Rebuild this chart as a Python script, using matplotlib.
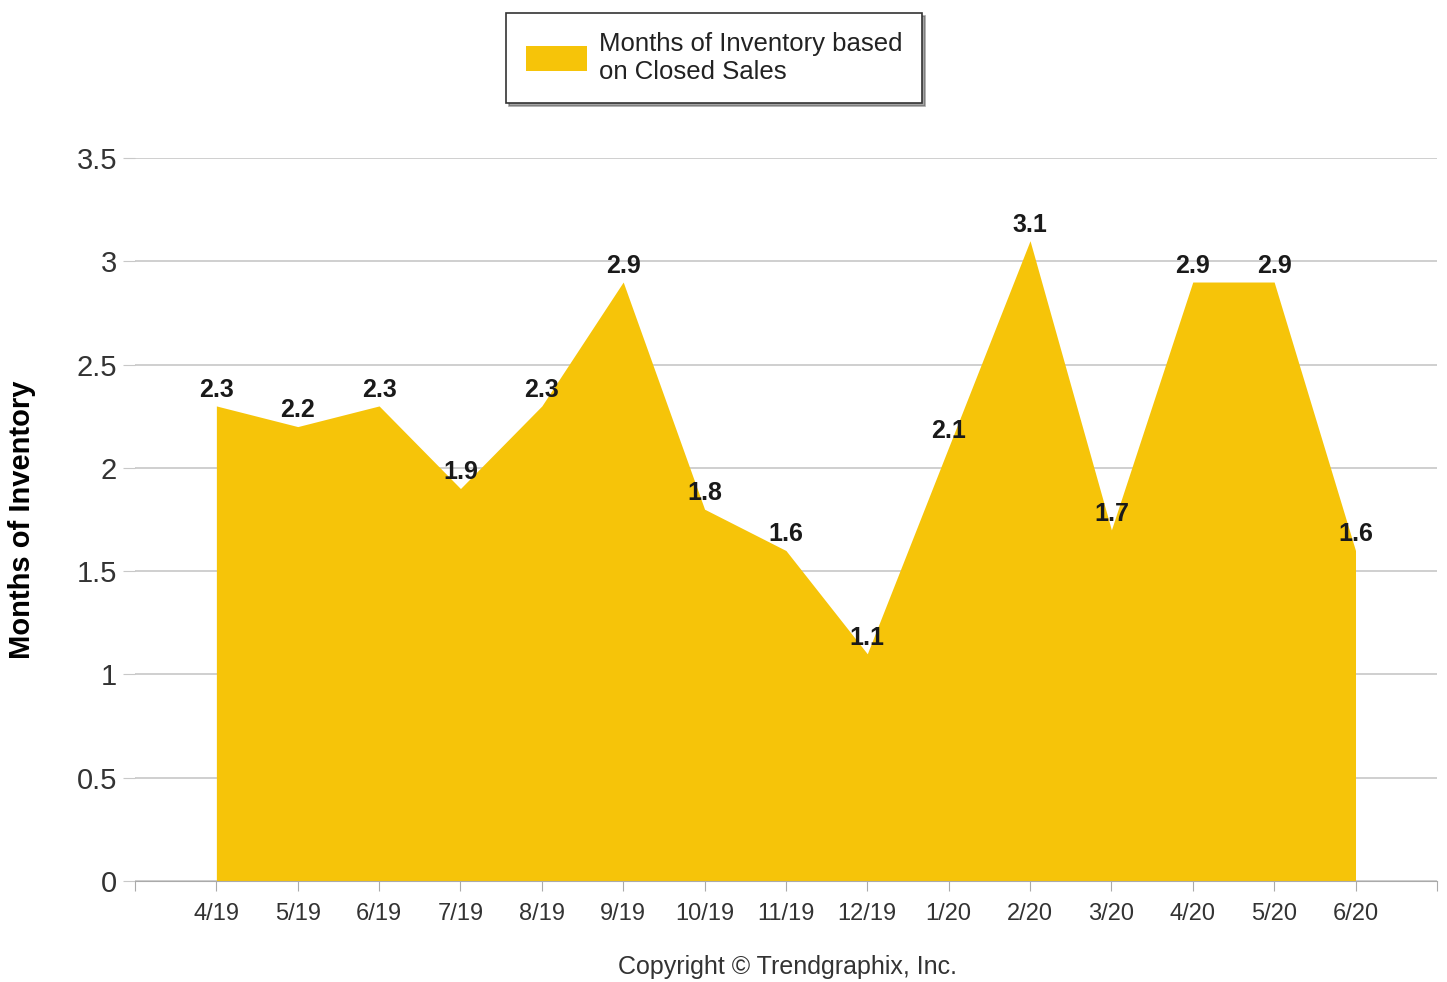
import matplotlib.pyplot as plt
from matplotlib.patches import Patch

# data
months = ["4/19", "5/19", "6/19", "7/19", "8/19", "9/19", "10/19", "11/19",
          "12/19", "1/20", "2/20", "3/20", "4/20", "5/20", "6/20"]
inventory = [2.3, 2.2, 2.3, 1.9, 2.3, 2.9, 1.8, 1.6, 1.1, 2.1, 3.1, 1.7, 2.9, 2.9, 1.6]
y_ticks = [0, 0.5, 1, 1.5, 2, 2.5, 3, 3.5]
y_tick_labels = ["0", "0.5", "1", "1.5", "2", "2.5", "3", "3.5"]

fill_color = "#F6C409"
plt.rcParams["font.family"] = ["Liberation Sans", "DejaVu Sans"]

fig = plt.figure(figsize=(14.47, 9.82), dpi=100)
ax = fig.add_axes([0.0933, 0.1029, 0.8997, 0.7361])

x = list(range(len(months)))
ax.fill_between(x, 0, inventory, color=fill_color, linewidth=0, zorder=2)

# value labels above each point
for xi, v in zip(x, inventory):
    ax.annotate(f"{v:g}", (xi, v), xytext=(0, 3), textcoords="offset points",
                ha="center", va="bottom", fontsize=18, fontweight="bold",
                color="#1a1a1a", zorder=3)

ax.set_xlim(-1, 15)
ax.set_ylim(0, 3.5)

ax.set_xticks(range(-1, 16))
ax.set_xticklabels([""] + months + [""], fontsize=17, color="#333333")
ax.set_yticks(y_ticks)
ax.set_yticklabels(y_tick_labels, fontsize=21, color="#333333")

ax.tick_params(axis="x", length=7, color="#aaaaaa", pad=9)
ax.tick_params(axis="y", length=9, color="#c8c8c8", pad=4)
ax.grid(axis="y", color="#cccccc", linewidth=1.3, zorder=1)
ax.set_axisbelow(True)

for side in ["top", "right", "left"]:
    ax.spines[side].set_visible(False)
ax.spines["bottom"].set_color("#aaaaaa")
ax.spines["bottom"].set_zorder(4)

ax.set_ylabel("Months of Inventory", fontsize=21, fontweight="bold")
ax.yaxis.set_label_coords(-0.076, 0.5)

# legend at the top
handle = Patch(facecolor=fill_color, edgecolor="none")
leg = fig.legend([handle], ["Months of Inventory based\non Closed Sales"],
                 loc="center", bbox_to_anchor=(0.4935, 0.941), fontsize=18.5,
                 frameon=True, fancybox=False, shadow=True, handlelength=2.4,
                 handleheight=1.1, handletextpad=0.45, borderpad=0.75,
                 borderaxespad=0)
leg.get_frame().set_edgecolor("#333333")
leg.get_frame().set_linewidth(1.2)
for t in leg.get_texts():
    t.set_color("#222222")
    t.set_linespacing(1.2)

fig.text(0.544, 0.015, "Copyright \u00a9 Trendgraphix, Inc.", ha="center", va="center",
         fontsize=18, color="#333333")

fig.savefig("out.png", dpi=100)
